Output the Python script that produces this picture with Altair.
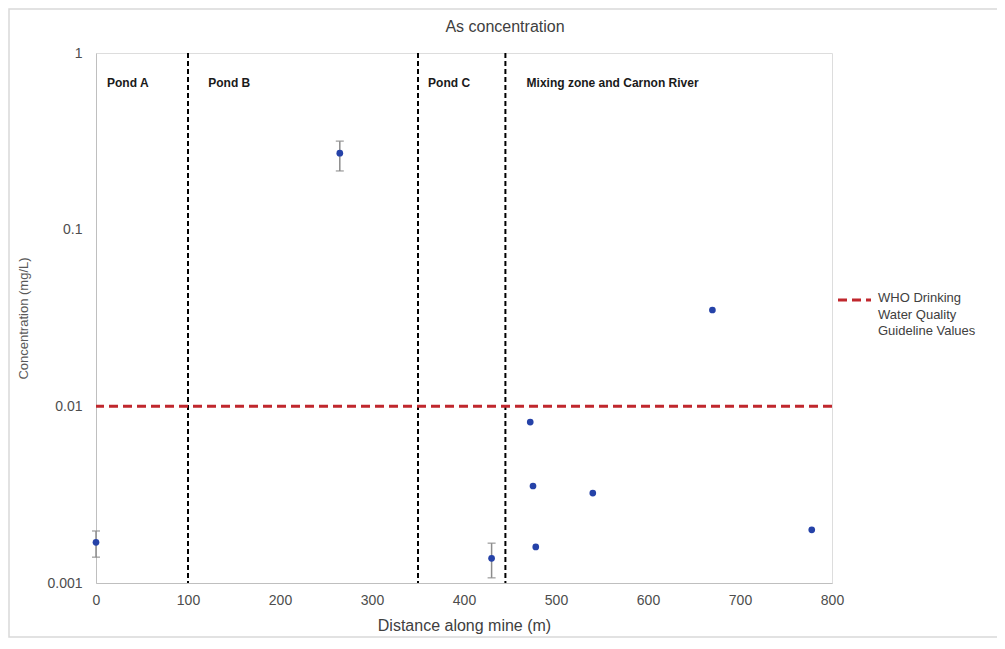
import altair as alt
import pandas as pd

# Measured points
dist = [0, 265, 430, 472, 475, 478, 540, 670, 778]
conc = [0.0017, 0.271, 0.00138, 0.00815, 0.00354, 0.0016, 0.00323, 0.0351, 0.0020]

# Error bars (only three samples)
err_x = [0, 265, 430]
err_lo = [0.0014, 0.215, 0.00107]
err_hi = [0.00197, 0.317, 0.00168]

# Zone boundaries and labels
boundaries = [100, 350, 445]
zone_names = ["Pond A", "Pond B", "Pond C", "Mixing zone and Carnon River"]
zone_x = [12, 122, 361, 468]
zone_y = [0.68, 0.68, 0.68, 0.68]

who_limit = 0.01
x_ticks = [0, 100, 200, 300, 400, 500, 600, 700, 800]
y_ticks = [0.001, 0.01, 0.1, 1]

pts = pd.DataFrame({"x": dist, "y": conc})
errs = pd.DataFrame({"x": err_x, "lo": err_lo, "hi": err_hi})
bnd = pd.DataFrame({"x": boundaries})
zones = pd.DataFrame({"x": zone_x, "y": zone_y, "t": zone_names})
who = pd.DataFrame({"y": [who_limit]})

FONT = "Liberation Sans"
W, H = 736, 530

xs = alt.Scale(domain=[0, 800], nice=False)
ys = alt.Scale(type="log", domain=[0.001, 1], nice=False)

x_axis = alt.Axis(values=x_ticks, title="Distance along mine (m)", grid=False, ticks=False,
                  domainColor="#bfbfbf", labelFontSize=14, labelColor="#4d4d4d",
                  labelPadding=10, labelFlush=False, titleFontSize=16, titleFontWeight="normal",
                  titleColor="#404040", titlePadding=10, labelFont=FONT, titleFont=FONT)
y_axis = alt.Axis(values=y_ticks, format="~g", title="Concentration (mg/L)", grid=False,
                  ticks=False, domainColor="#bfbfbf", labelFontSize=14, labelColor="#4d4d4d",
                  labelPadding=14, labelFlush=False, titleFontSize=13, titleFontWeight="normal",
                  titleColor="#595959", titlePadding=16, labelFont=FONT, titleFont=FONT)

base = alt.Chart(pts)

points = base.mark_point(filled=True, size=45, color="#2542a8", opacity=1).encode(
    x=alt.X("x:Q", scale=xs, axis=x_axis),
    y=alt.Y("y:Q", scale=ys, axis=y_axis),
)

err_rule = alt.Chart(errs).mark_rule(color="#8c8c8c", strokeWidth=1.5).encode(
    x=alt.X("x:Q", scale=xs), y=alt.Y("lo:Q", scale=ys), y2="hi:Q")
cap_lo = alt.Chart(errs).mark_tick(orient="horizontal", size=8, thickness=1.5, color="#8c8c8c").encode(
    x=alt.X("x:Q", scale=xs), y=alt.Y("lo:Q", scale=ys))
cap_hi = alt.Chart(errs).mark_tick(orient="horizontal", size=8, thickness=1.5, color="#8c8c8c").encode(
    x=alt.X("x:Q", scale=xs), y=alt.Y("hi:Q", scale=ys))

vlines = alt.Chart(bnd).mark_rule(color="black", strokeWidth=2, strokeDash=[5, 3]).encode(
    x=alt.X("x:Q", scale=xs))

who_line = alt.Chart(who).mark_rule(color="#c0272d", strokeWidth=3, strokeDash=[9, 5]).encode(
    y=alt.Y("y:Q", scale=ys))

zone_text = alt.Chart(zones).mark_text(align="left", baseline="middle", font=FONT,
                                       fontSize=12, fontWeight="bold", color="#1a1a1a").encode(
    x=alt.X("x:Q", scale=xs), y=alt.Y("y:Q", scale=ys), text="t:N")

title = alt.Chart(pd.DataFrame({"t": ["As concentration"]})).mark_text(
    font=FONT, fontSize=16, color="#404040", align="center", baseline="middle").encode(
    x=alt.value(409), y=alt.value(-26), text="t:N")

legend_line = alt.Chart(who).mark_rule(color="#c0272d", strokeWidth=3, strokeDash=[9, 5]).encode(
    x=alt.value(742), x2=alt.value(775), y=alt.value(247))
legend_text = alt.Chart(pd.DataFrame({"t": [["WHO Drinking", "Water Quality", "Guideline Values"]]})).mark_text(
    font=FONT, fontSize=13, color="#404040", align="left", baseline="top", lineHeight=16.5).encode(
    x=alt.value(782), y=alt.value(239), text="t:N")

border = alt.Chart(who).mark_rect(fill=None, stroke="#d9d9d9", strokeWidth=1.5).encode(
    x=alt.value(-87), x2=alt.value(902), y=alt.value(-44), y2=alt.value(584))

chart = alt.layer(
    border, vlines, who_line, err_rule, cap_lo, cap_hi, points, zone_text,
    title, legend_line, legend_text,
).properties(
    width=W, height=H,
    autosize=alt.AutoSizeParams(type="none"),
    padding={"left": 88, "top": 45, "right": 165, "bottom": 60},
).configure_view(stroke="#bfbfbf", strokeWidth=1.5).configure(background="white")

chart.save("out.html", embed_options={"renderer": "svg", "actions": False})
